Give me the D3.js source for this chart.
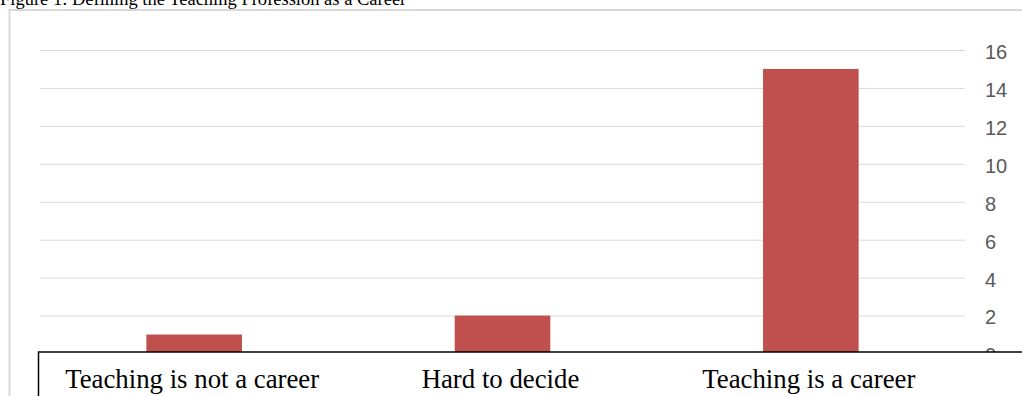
<!DOCTYPE html>
<html>
<head>
<meta charset="utf-8">
<script src="https://cdn.jsdelivr.net/npm/d3@7"></script>
<style>
  html, body { margin: 0; padding: 0; background: #fff; overflow: hidden; }
  svg { display: block; }
</style>
</head>
<body>
<svg id="chart" width="1022" height="396"></svg>
<script>
// Responses to "Is teaching a career?"
const categories = ["Teaching is not a career", "Hard to decide", "Teaching is a career"];
const counts = [1, 2, 15];
const yTicks = [0, 2, 4, 6, 8, 10, 12, 14, 16];
const titleText = "Figure 1: Defining the Teaching Profession as a Career";

const svg = d3.select("#chart");

const plot = { left: 40, right: 965, top: 50, bottom: 353.5 };

const x = d3.scaleBand()
  .domain(categories)
  .range([plot.left, plot.right])
  .paddingInner(0.69)
  .paddingOuter(0.345);

const y = d3.scaleLinear()
  .domain([0, 16])
  .range([plot.bottom, plot.top]);

// Caption above the chart frame
svg.append("text")
  .attr("x", 0)
  .attr("y", 5)
  .attr("font-family", "'Liberation Serif', 'Times New Roman', serif")
  .attr("font-size", 18.5)
  .attr("fill", "#000")
  .text(titleText);

// Chart frame
svg.append("rect")
  .attr("x", 9.5)
  .attr("y", 10)
  .attr("width", 1040)
  .attr("height", 420)
  .attr("fill", "#fff")
  .attr("stroke", "#d9d9d9")
  .attr("stroke-width", 2);

// Gridlines and right-side value labels
const yAxis = d3.axisRight(y)
  .tickValues(yTicks)
  .tickSize(plot.right - plot.left)
  .tickPadding(20);

const gy = svg.append("g")
  .attr("transform", `translate(${plot.left},0)`)
  .call(yAxis);

gy.select(".domain").remove();
gy.selectAll(".tick line")
  .attr("stroke", "#d9d9d9")
  .attr("stroke-width", 1);
gy.selectAll(".tick text")
  .attr("fill", "#595959")
  .attr("font-family", "'Liberation Sans', Arial, sans-serif")
  .attr("font-size", 20)
  .attr("dy", "0.42em");

// Bars
svg.append("g")
  .selectAll("rect")
  .data(categories)
  .join("rect")
  .attr("x", d => x(d))
  .attr("y", (d, i) => y(counts[i]))
  .attr("width", x.bandwidth())
  .attr("height", (d, i) => y(0) - y(counts[i]))
  .attr("fill", "#c0504d");

// Category label box laid over the baseline
svg.append("rect")
  .attr("x", 38.5)
  .attr("y", 352)
  .attr("width", 1040)
  .attr("height", 80)
  .attr("fill", "#fff")
  .attr("stroke", "#000")
  .attr("stroke-width", 1.5);

svg.append("g")
  .selectAll("text")
  .data(categories)
  .join("text")
  .attr("x", d => x(d) + x.bandwidth() / 2 - 2)
  .attr("y", 388)
  .attr("text-anchor", "middle")
  .attr("font-family", "'Liberation Serif', 'Times New Roman', serif")
  .attr("font-size", 26.8)
  .attr("fill", "#000")
  .text(d => d);
</script>
</body>
</html>
